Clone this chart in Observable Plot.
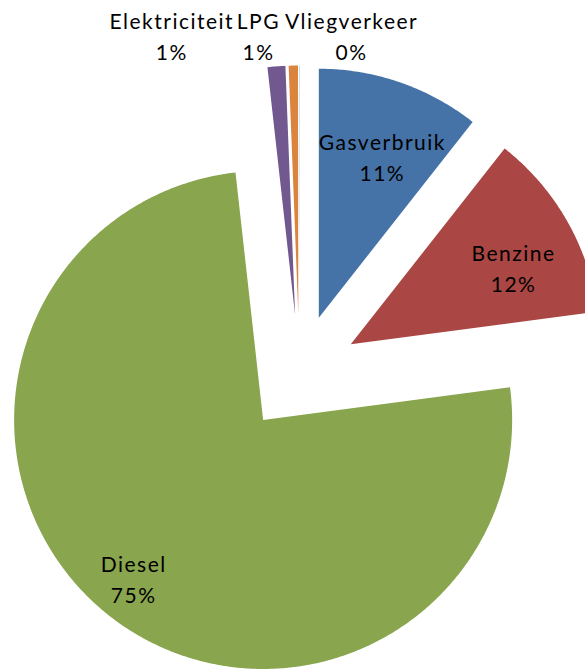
<!DOCTYPE html>
<html><head><meta charset="utf-8">
<script src="https://cdn.jsdelivr.net/npm/d3@7"></script>
<script src="https://cdn.jsdelivr.net/npm/@observablehq/plot@0.6"></script>
<style>
html,body{margin:0;padding:0;background:#fff;overflow:hidden}
#chart svg{display:block}
#chart text{letter-spacing:1.5px}
</style></head><body><div id="chart"></div>
<script>
// ---- data ----
const categories = ["Gasverbruik", "Benzine", "Diesel", "Elektriciteit", "LPG", "Vliegverkeer"];
const values = [10.6, 12.3, 75.3, 1.15, 0.6, 0.02];
const percentLabels = ["11%", "12%", "75%", "1%", "1%", "0%"];
const colors = ["#4572A7", "#AA4643", "#89A54E", "#71588F", "#DB843D", "#4198AF"];

// ---- layout ----
const W = 585, H = 669;
const cx = 299, cy = 373, R = 249, explode = 59;
const labelRadius = [0.70, 0.725, 0.82];
const labelAngleShift = [2.3, 4.1, 1.3]; // degrees
const outsideShift = [-0.42, -0.14, 0.21];
const outsideY = 1.36;

const total = d3.sum(values);
let acc = 0;
const ex = explode / R;
const slices = categories.map((c, i) => {
  const a0 = acc / total * 2 * Math.PI; acc += values[i];
  const a1 = acc / total * 2 * Math.PI;
  const mid = (a0 + a1) / 2;
  const ox = ex * Math.sin(mid), oy = ex * Math.cos(mid);
  const n = Math.max(2, Math.ceil((a1 - a0) / (Math.PI / 360)));
  const points = [{x: ox, y: oy}];
  for (let k = 0; k <= n; k++) {
    const a = a0 + (a1 - a0) * k / n;
    points.push({x: ox + Math.sin(a), y: oy + Math.cos(a)});
  }
  return {c, i, a0, a1, mid, ox, oy, points};
});

const inside = slices.slice(0, 3).map((s, j) => {
  const a = s.mid + labelAngleShift[j] * Math.PI / 180;
  return {
    x: s.ox + labelRadius[j] * Math.sin(a),
    y: s.oy + labelRadius[j] * Math.cos(a),
    t: s.c + "\n" + percentLabels[s.i]
  };
});
const outside = slices.slice(3).map((s, j) => ({
  x: (1 + ex) * Math.sin(s.mid) + outsideShift[j],
  y: outsideY,
  t: s.c + "\n" + percentLabels[s.i]
}));

const textOpts = {x: "x", y: "y", text: "t", fontSize: 21, lineHeight: 1.47, fill: "#000", fontFamily: "Lato"};

const chart = Plot.plot({
  width: W, height: H,
  margin: 0,
  x: {domain: [-cx / R, (W - cx) / R], range: [0, W], axis: null},
  y: {domain: [-(H - cy) / R, cy / R], range: [H, 0], axis: null},
  style: {background: "white", fontFamily: "Lato"},
  marks: [
    ...slices.map(s => Plot.line(s.points, {x: "x", y: "y", fill: colors[s.i], stroke: "none"})),
    Plot.text(inside, textOpts),
    Plot.text(outside, textOpts)
  ]
});
document.getElementById("chart").appendChild(chart);
</script>
</body></html>
